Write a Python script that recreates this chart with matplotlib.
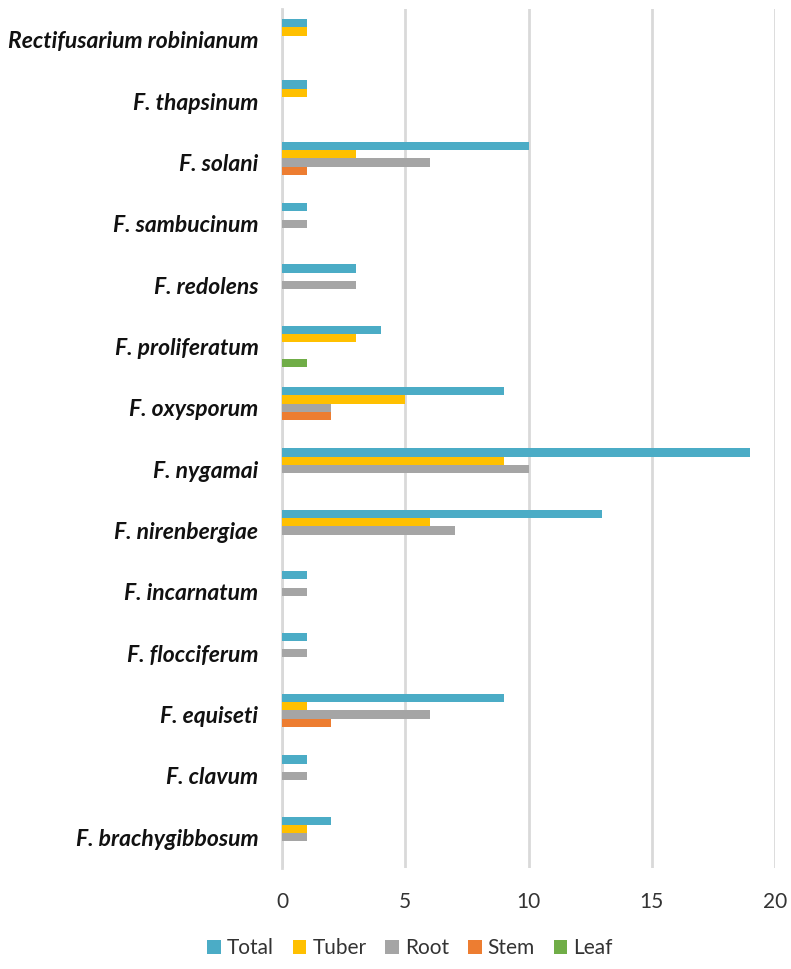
import matplotlib
matplotlib.use("Agg")
import matplotlib.pyplot as plt
import numpy as np

plt.rcParams['font.family'] = ['Lato', 'DejaVu Sans']

categories = ["Rectifusarium robinianum", "F. thapsinum", "F. solani", "F. sambucinum",
              "F. redolens", "F. proliferatum", "F. oxysporum", "F. nygamai",
              "F. nirenbergiae", "F. incarnatum", "F. flocciferum", "F. equiseti",
              "F. clavum", "F. brachygibbosum"]
total = [1, 1, 10, 1, 3, 4, 9, 19, 13, 1, 1, 9, 1, 2]
tuber = [1, 1, 3, 0, 0, 3, 5, 9, 6, 0, 0, 1, 0, 1]
root  = [0, 0, 6, 1, 3, 0, 2, 10, 7, 1, 1, 6, 1, 1]
stem  = [0, 0, 1, 0, 0, 0, 2, 0, 0, 0, 0, 2, 0, 0]
leaf  = [0, 0, 0, 0, 0, 1, 0, 0, 0, 0, 0, 0, 0, 0]
series_names = ["Total", "Tuber", "Root", "Stem", "Leaf"]
series_vals = [total, tuber, root, stem, leaf]
colors = ["#4BACC6", "#FFC000", "#A5A5A5", "#ED7D31", "#70AD47"]

fig = plt.figure(figsize=(7.91, 9.69), dpi=100)
ax = fig.add_axes([282/791, 1-868/969, (775-282)/791, (868-9)/969])

n = len(categories)
ypos = np.arange(n)[::-1]  # first category at top
bh = 0.135
for i, (name, vals, c) in enumerate(zip(series_names, series_vals, colors)):
    ax.barh(ypos + (2 - i) * bh, vals, height=bh, color=c, label=name, zorder=3)

ax.set_ylim(-0.5, n - 0.5)
ax.set_xlim(0, 20)
ax.set_xticks([0, 5, 10, 15, 20])
ax.set_yticks(ypos)
ax.set_yticklabels(categories, fontsize=16.5, fontweight='bold', fontstyle='italic', color='#111111')
ax.tick_params(axis='y', length=0, pad=17)
ax.tick_params(axis='x', length=0, pad=17, labelsize=15, labelcolor='#333333')
ax.xaxis.grid(True, color='#D9D9D9', linewidth=2, zorder=0)
for s in ['top', 'right', 'bottom']:
    ax.spines[s].set_visible(False)
ax.spines['left'].set_color('#D9D9D9')
ax.spines['left'].set_linewidth(2)

handles, labels = ax.get_legend_handles_labels()
fig.legend(handles, labels, loc='center', bbox_to_anchor=(410/791, 1-948/969), ncol=5,
           frameon=False, fontsize=15, handlelength=0.65, handleheight=0.65,
           handletextpad=0.3, columnspacing=0.9, labelcolor='#333333')

fig.savefig("out.png", dpi=100)
